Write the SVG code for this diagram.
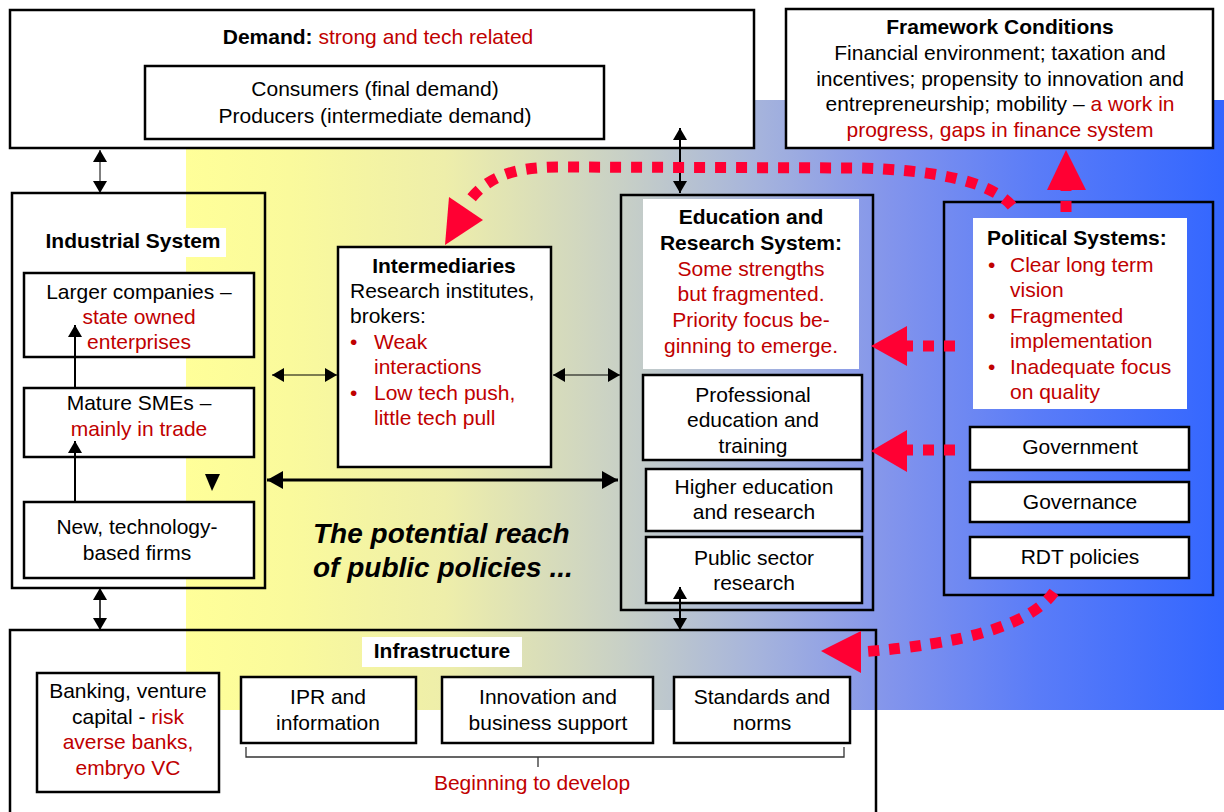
<svg xmlns="http://www.w3.org/2000/svg" width="1224" height="812" viewBox="0 0 1224 812">
<defs>
<linearGradient id="bg" x1="186" y1="0" x2="1224" y2="0" gradientUnits="userSpaceOnUse">
<stop offset="0" stop-color="#FFFF99"/>
<stop offset="0.1" stop-color="#FAFA9C"/>
<stop offset="0.25" stop-color="#EEEEAA"/>
<stop offset="0.42" stop-color="#C8D0C6"/>
<stop offset="0.55" stop-color="#A6B4DC"/>
<stop offset="0.68" stop-color="#8294EC"/>
<stop offset="0.82" stop-color="#5A7CF8"/>
<stop offset="1" stop-color="#3366FF"/>
</linearGradient>
<marker id="ah" viewBox="0 0 12 14" refX="12" refY="7" markerWidth="12" markerHeight="14" orient="auto-start-reverse" markerUnits="userSpaceOnUse"><path d="M0,0 L12,7 L0,14 z" fill="#000"/></marker>
<marker id="ahl" viewBox="0 0 16 18" refX="16" refY="9" markerWidth="16" markerHeight="18" orient="auto-start-reverse" markerUnits="userSpaceOnUse"><path d="M0,0 L16,9 L0,18 z" fill="#000"/></marker>
</defs>
<style>
text{font-family:"Liberation Sans",Arial,sans-serif;font-size:21px;fill:#000}
.b{font-weight:bold}
.r{fill:#C00000}
.c{text-anchor:middle}
.box{fill:#fff;stroke:#000;stroke-width:2.5}
.frame{fill:none;stroke:#000;stroke-width:2.5}
.lab{fill:#fff;stroke:none}
.bl{stroke:#000;fill:none}
.rd{stroke:#FF0033;stroke-width:11;fill:none;stroke-dasharray:11 10}
.rh{fill:#FF0033}
.it{font-weight:bold;font-style:italic;font-size:28px}
</style>
<rect x="0" y="0" width="1224" height="812" fill="#fff"/>
<rect x="186" y="100" width="1038" height="610" fill="url(#bg)"/>

<g id="demand">
<rect x="10" y="10" width="744" height="138" class="box" stroke-width="3"/>
<text x="378" y="44" class="c"><tspan class="b">Demand: </tspan><tspan class="r">strong and tech related</tspan></text>
<rect x="145" y="66" width="459" height="73" class="box" stroke-width="2"/>
<text x="375" y="96" class="c">Consumers (final demand)</text>
<text x="375" y="123" class="c">Producers (intermediate demand)</text>
</g>

<g id="framework">
<rect x="786" y="9" width="427" height="139" class="box" stroke-width="3"/>
<text x="1000" y="34" class="c b">Framework Conditions</text>
<text x="1000" y="60" class="c">Financial environment; taxation and</text>
<text x="1000" y="86" class="c">incentives; propensity to innovation and</text>
<text x="1000" y="111" class="c">entrepreneurship; mobility – <tspan class="r">a work in</tspan></text>
<text x="1000" y="137" class="c r">progress, gaps in finance system</text>
</g>

<g id="industrial">
<rect x="12" y="193" width="253" height="395" class="frame"/>
<rect x="40" y="228" width="186" height="29" class="lab"/>
<text x="133" y="248" class="c b">Industrial System</text>
<g id="larger">
<rect x="24" y="273" width="230" height="84" class="box"/>
<text x="139" y="299" class="c">Larger companies –</text>
<text x="139" y="324" class="c r">state owned</text>
<text x="139" y="349" class="c r">enterprises</text>
</g>
<g id="mature">
<rect x="24" y="388" width="230" height="69" class="box"/>
<text x="139" y="410" class="c">Mature SMEs –</text>
<text x="139" y="436" class="c r">mainly in trade</text>
</g>
<g id="newfirms">
<rect x="24" y="502" width="230" height="76" class="box"/>
<text x="137" y="534" class="c">New, technology-</text>
<text x="137" y="560" class="c">based firms</text>
</g>
</g>

<g id="intermediaries">
<rect x="338" y="247" width="213" height="220" class="box"/>
<text x="444" y="273" class="c b">Intermediaries</text>
<text x="350" y="298">Research institutes,</text>
<text x="350" y="323">brokers:</text>
<text x="350" y="349" class="r">•</text><text x="374" y="349" class="r">Weak</text>
<text x="374" y="374" class="r">interactions</text>
<text x="350" y="400" class="r">•</text><text x="374" y="400" class="r">Low tech push,</text>
<text x="374" y="425" class="r">little tech pull</text>
</g>

<g id="education">
<rect x="621" y="195" width="252" height="415" class="frame"/>
<rect x="643" y="199" width="216" height="170" class="lab"/>
<text x="751" y="224" class="c b">Education and</text>
<text x="751" y="250" class="c b">Research System:</text>
<text x="751" y="276" class="c r">Some strengths</text>
<text x="751" y="301" class="c r">but fragmented.</text>
<text x="751" y="327" class="c r">Priority focus be-</text>
<text x="751" y="353" class="c r">ginning to emerge.</text>
<g id="professional">
<rect x="643" y="375" width="219" height="85" class="box"/>
<text x="753" y="402" class="c">Professional</text>
<text x="753" y="427" class="c">education and</text>
<text x="753" y="453" class="c">training</text>
</g>
<g id="higher">
<rect x="646" y="469" width="216" height="62" class="box"/>
<text x="754" y="494" class="c">Higher education</text>
<text x="754" y="519" class="c">and research</text>
</g>
<g id="public">
<rect x="646" y="537" width="216" height="66" class="box"/>
<text x="754" y="565" class="c">Public sector</text>
<text x="754" y="590" class="c">research</text>
</g>
</g>

<g id="political">
<rect x="944" y="202" width="269" height="393" class="frame" stroke-width="3"/>
<rect x="973" y="218" width="214" height="191" class="lab"/>
<text x="987" y="245" class="b">Political Systems:</text>
<text x="988" y="272" class="r">•</text><text x="1010" y="272" class="r">Clear long term</text>
<text x="1010" y="297" class="r">vision</text>
<text x="988" y="323" class="r">•</text><text x="1010" y="323" class="r">Fragmented</text>
<text x="1010" y="348" class="r">implementation</text>
<text x="988" y="374" class="r">•</text><text x="1010" y="374" class="r">Inadequate focus</text>
<text x="1010" y="399" class="r">on quality</text>
<g id="government">
<rect x="970" y="427" width="219" height="43" class="box" stroke-width="3.5"/>
<text x="1080" y="454" class="c">Government</text>
</g>
<g id="governance">
<rect x="970" y="482" width="219" height="40" class="box" stroke-width="3.5"/>
<text x="1080" y="509" class="c">Governance</text>
</g>
<g id="rdt">
<rect x="970" y="537" width="219" height="41" class="box" stroke-width="3.5"/>
<text x="1080" y="564" class="c">RDT policies</text>
</g>
</g>

<g id="infrastructure">
<rect x="10" y="630" width="866" height="200" class="frame" stroke-width="3"/>
<rect x="362" y="637" width="160" height="30" class="lab"/>
<text x="442" y="658" class="c b">Infrastructure</text>
<g id="banking">
<rect x="37" y="673" width="182" height="119" class="box"/>
<text x="128" y="698" class="c">Banking, venture</text>
<text x="128" y="724" class="c">capital - <tspan class="r">risk</tspan></text>
<text x="128" y="749" class="c r">averse banks,</text>
<text x="128" y="775" class="c r">embryo VC</text>
</g>
<g id="ipr">
<rect x="241" y="677" width="175" height="66" class="box"/>
<text x="328" y="704" class="c">IPR and</text>
<text x="328" y="730" class="c">information</text>
</g>
<g id="innovation">
<rect x="442" y="677" width="211" height="66" class="box"/>
<text x="548" y="704" class="c">Innovation and</text>
<text x="548" y="730" class="c">business support</text>
</g>
<g id="standards">
<rect x="674" y="677" width="176" height="66" class="box"/>
<text x="762" y="704" class="c">Standards and</text>
<text x="762" y="730" class="c">norms</text>
</g>
<path d="M246,747 V757 H844 V747 M538,757 V767" stroke="#333" stroke-width="1.3" fill="none"/>
<text x="532" y="790" class="c r">Beginning to develop</text>
</g>

<text x="313" y="543" class="it">The potential reach</text>
<text x="313" y="577" class="it">of public policies ...</text>

<g id="connectors">
<line x1="100" y1="150" x2="100" y2="193" class="bl" stroke-width="1" marker-start="url(#ah)" marker-end="url(#ah)"/>
<line x1="100" y1="588" x2="100" y2="630" class="bl" stroke-width="1.5" marker-start="url(#ah)" marker-end="url(#ah)"/>
<line x1="272" y1="375" x2="337" y2="375" class="bl" stroke-width="1.2" marker-start="url(#ah)" marker-end="url(#ah)"/>
<line x1="553" y1="375" x2="620" y2="375" class="bl" stroke-width="1.2" marker-start="url(#ah)" marker-end="url(#ah)"/>
<line x1="267" y1="480" x2="618" y2="480" class="bl" stroke-width="3" marker-start="url(#ahl)" marker-end="url(#ahl)"/>
<line x1="680" y1="128" x2="680" y2="193" class="bl" stroke-width="2" marker-start="url(#ah)" marker-end="url(#ah)"/>
<line x1="680" y1="587" x2="680" y2="630" class="bl" stroke-width="2" marker-start="url(#ah)" marker-end="url(#ah)"/>
<line x1="75" y1="501" x2="75" y2="441" class="bl" stroke-width="2" marker-end="url(#ah)"/>
<line x1="75" y1="388" x2="75" y2="325" class="bl" stroke-width="2" marker-end="url(#ah)"/>
<polygon points="205,474 220,474 212,491" fill="#000"/>

<path d="M1066,212 V190" class="rd"/>
<polygon points="1066,150 1047,190 1086,190" class="rh"/>
<path d="M1012,206 C990,180 930,170 860,168 L560,167 C510,167 485,178 466,205" class="rd"/>
<polygon points="445,245 449,197 483,220" class="rh"/>
<path d="M955,346 H907" class="rd"/>
<polygon points="871,346 907,326 907,366" class="rh"/>
<path d="M955,450 H907" class="rd"/>
<polygon points="871,451 907,430 907,472" class="rh"/>
<path d="M1054,592 Q1020,640 860,652" class="rd"/>
<polygon points="821,651 861,631 861,673" class="rh"/>
</g>
</svg>
